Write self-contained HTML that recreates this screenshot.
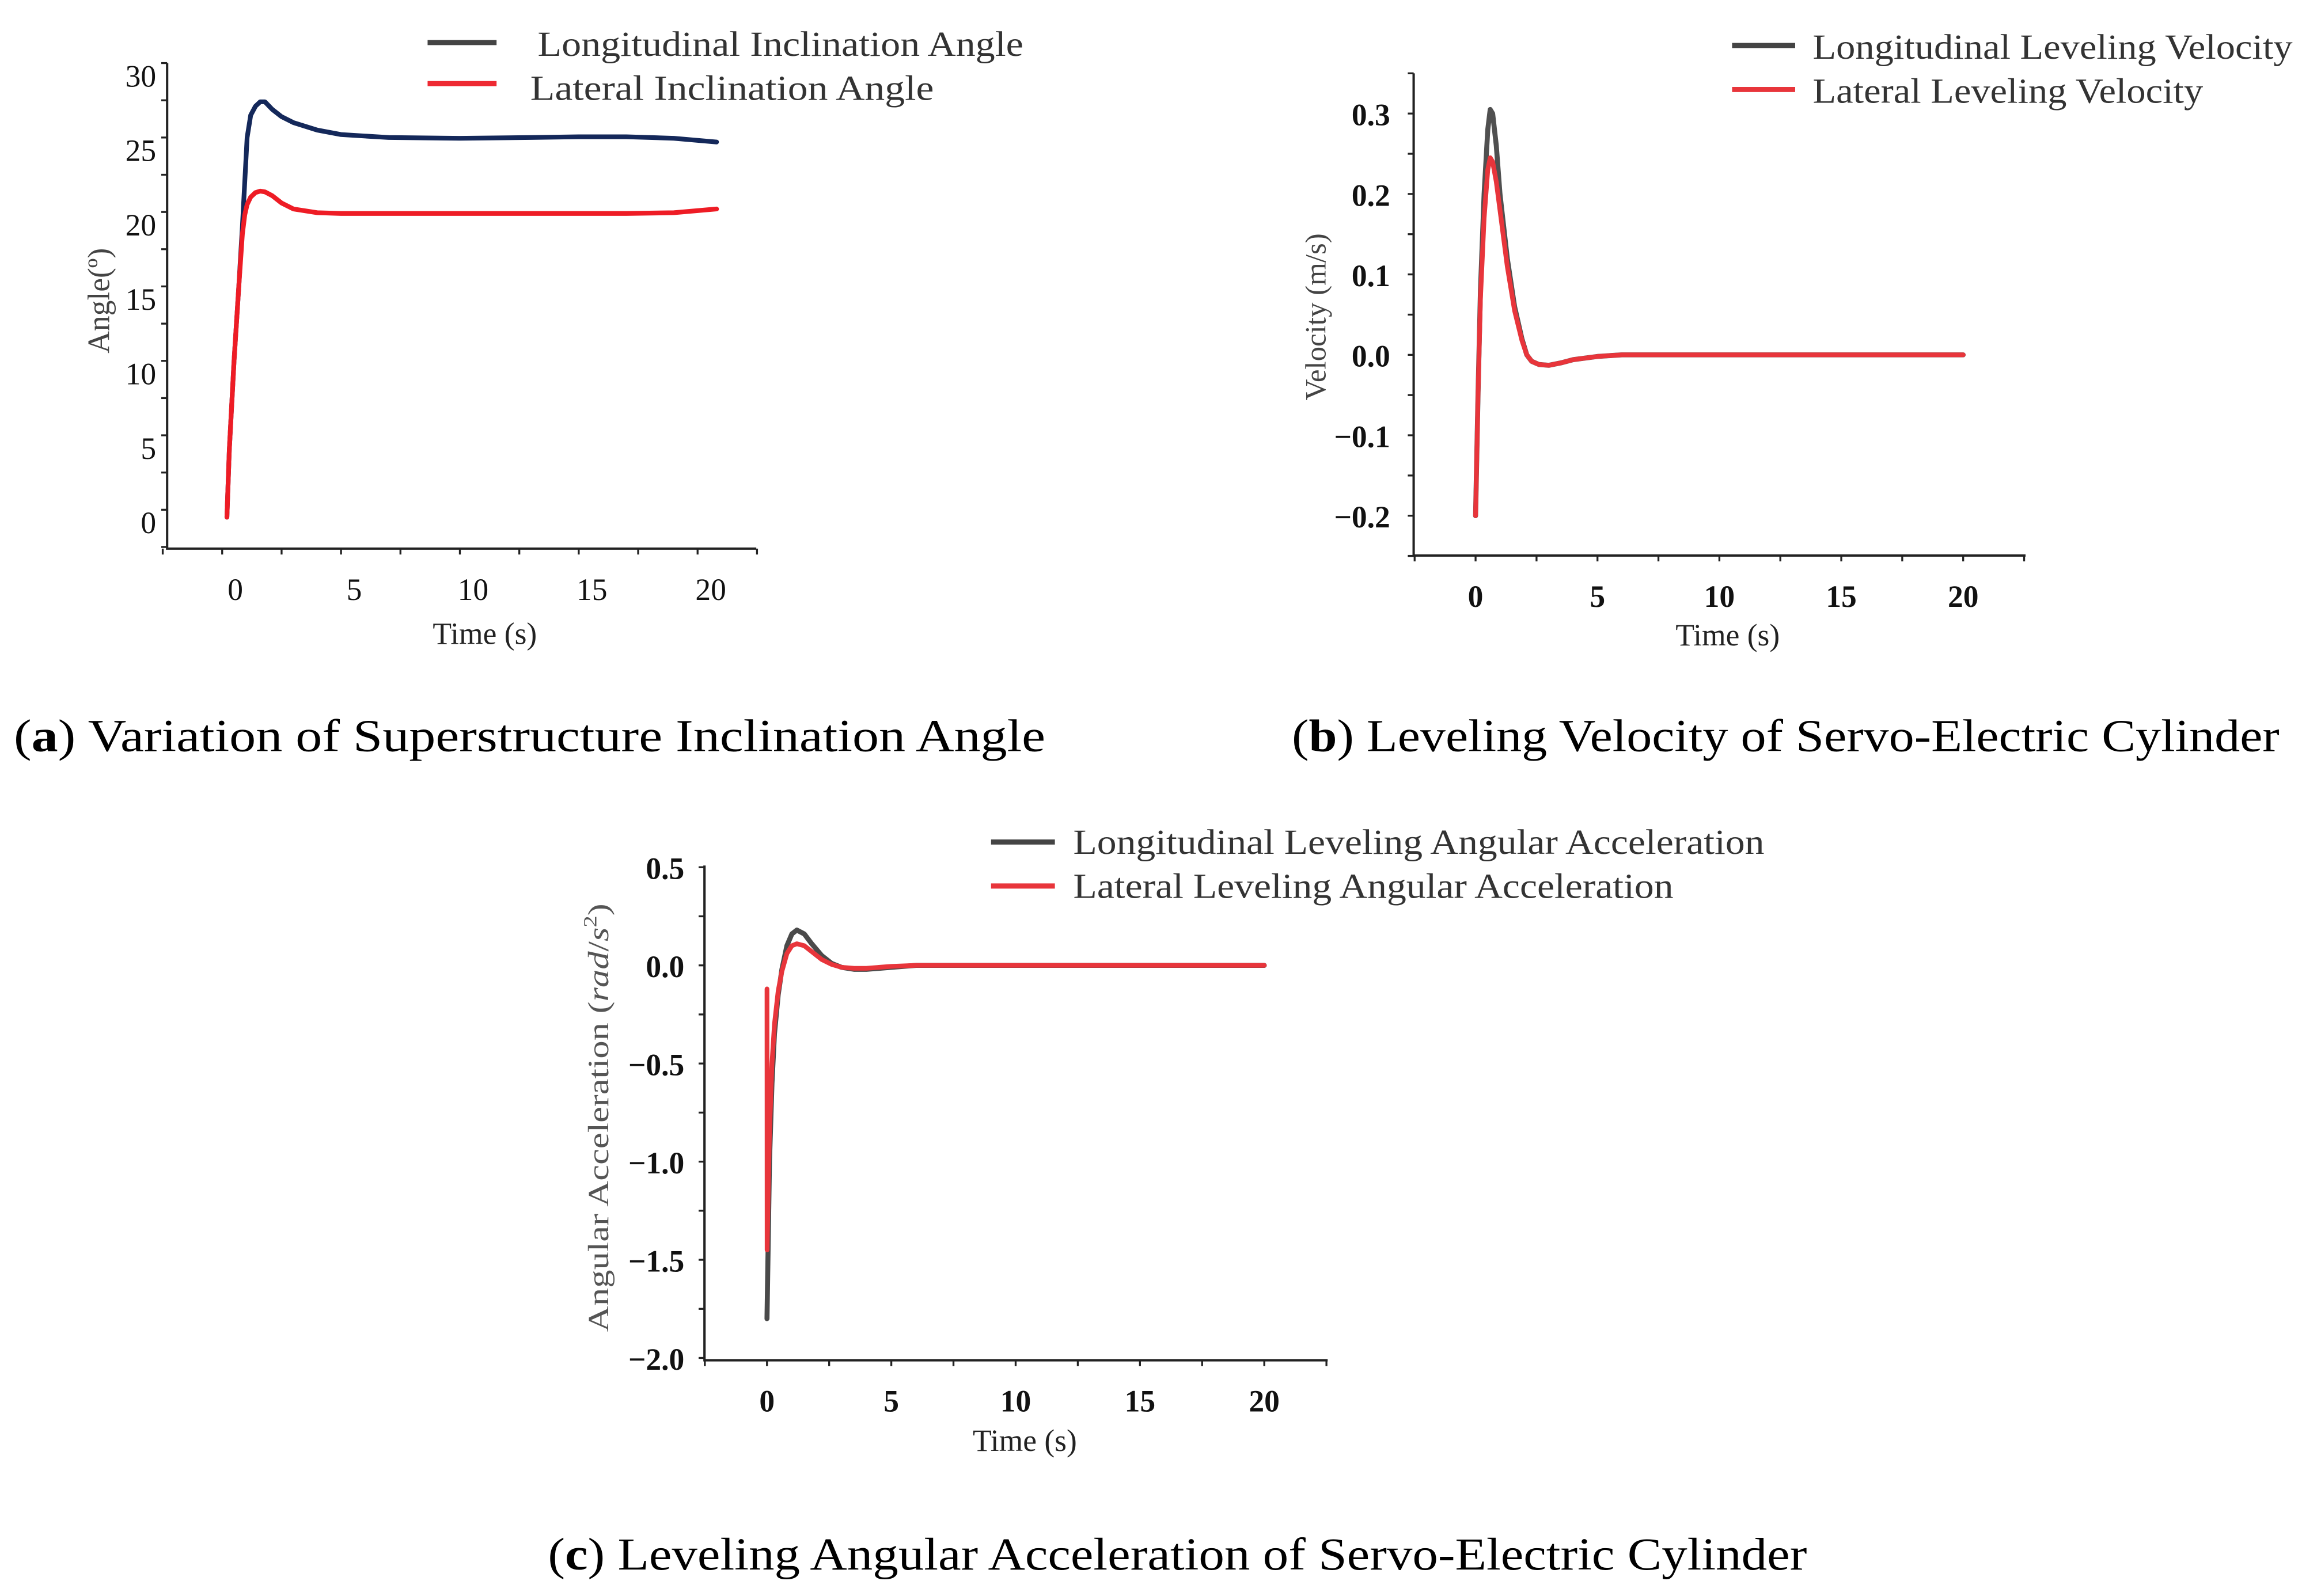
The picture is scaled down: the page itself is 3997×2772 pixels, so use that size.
<!DOCTYPE html>
<html><head><meta charset="utf-8"><style>
html,body{margin:0;padding:0;background:#fff;}
svg{display:block;}
text{font-family:"Liberation Serif",serif;}
</style></head><body>
<svg id="fig" width="3997" height="2772" viewBox="0 0 1568 1088" xmlns="http://www.w3.org/2000/svg">
<rect width="1568" height="1088" fill="#fff"/>
<g id="pa"></g>
<g id="pb"></g>
<g id="pc"></g>
<text x="9" y="512" font-size="31" textLength="703" lengthAdjust="spacingAndGlyphs">(<tspan font-weight="bold">a</tspan>) Variation of Superstructure Inclination Angle</text>
<text x="880" y="512" font-size="31" textLength="673" lengthAdjust="spacingAndGlyphs">(<tspan font-weight="bold">b</tspan>) Leveling Velocity of Servo-Electric Cylinder</text>
<text x="373" y="1070" font-size="31" textLength="858" lengthAdjust="spacingAndGlyphs">(<tspan font-weight="bold">c</tspan>) Leveling Angular Acceleration of Servo-Electric Cylinder</text>
</svg>
<script>
// Panel a data
const aTime = [0.2,0.3,0.5,0.7,0.85,0.95,1.05,1.2,1.4,1.6,1.8,2.1,2.5,3,4,5,7,10,13,15,17,19,20.8];
const aLong = [-0.5,4,10,15,19,22,25,26.5,27.1,27.4,27.4,26.9,26.4,26.0,25.5,25.2,25.0,24.95,25.0,25.05,25.05,24.95,24.7];
const aLat  = [-0.5,4,10,15,18.5,19.8,20.5,21.0,21.3,21.4,21.35,21.1,20.6,20.2,19.95,19.9,19.9,19.9,19.9,19.9,19.9,19.95,20.2];
const aXTicks = [0,5,10,15,20];
const aYTicks = [0,5,10,15,20,25,30];
// Panel b data
const bTime = [0,0.1,0.2,0.35,0.5,0.6,0.7,0.85,1.0,1.3,1.6,1.9,2.1,2.3,2.6,3,3.5,4,5,6,8,12,16,20];
const bLong = [-0.2,-0.05,0.08,0.2,0.28,0.305,0.3,0.26,0.2,0.12,0.06,0.02,0.0,-0.008,-0.012,-0.013,-0.01,-0.006,-0.002,0,0,0,0,0];
const bLat  = [-0.2,-0.05,0.07,0.17,0.23,0.245,0.24,0.215,0.18,0.11,0.055,0.018,0.0,-0.008,-0.012,-0.013,-0.01,-0.006,-0.002,0,0,0,0,0];
const bXTicks = [0,5,10,15,20];
const bYTicks = [-0.2,-0.1,0.0,0.1,0.2,0.3];
// Panel c data
const cTime = [0,0.05,0.1,0.2,0.3,0.45,0.6,0.8,1.0,1.2,1.5,1.8,2.2,2.6,3.0,3.5,4.0,5,6,8,12,16,20];
const cLong = [-1.8,-1.4,-1.0,-0.6,-0.35,-0.15,-0.02,0.1,0.16,0.18,0.16,0.11,0.05,0.01,-0.01,-0.02,-0.02,-0.01,0,0,0,0,0];
const cLatTime = [0,0.005,0.05,0.1,0.2,0.3,0.45,0.6,0.8,1.0,1.2,1.5,1.8,2.2,2.6,3.0,3.5,4.0,5,6,8,12,16,20];
const cLat  = [-0.12,-1.45,-1.15,-0.85,-0.5,-0.3,-0.13,-0.03,0.06,0.1,0.11,0.1,0.07,0.03,0.005,-0.01,-0.015,-0.015,-0.005,0,0,0,0,0];
const cXTicks = [0,5,10,15,20];
const cYTicks = [-2.0,-1.5,-1.0,-0.5,0.0,0.5];

const NS="http://www.w3.org/2000/svg";
function mk(parent,tag,attrs,txt){const e=document.createElementNS(NS,tag);for(const k in attrs)e.setAttribute(k,attrs[k]);if(txt!==undefined)e.textContent=txt;parent.appendChild(e);return e;}
function scale(d0,d1,r0,r1){return v=>r0+(v-d0)*(r1-r0)/(d1-d0);}
function path(xs,ys,sx,sy){return xs.map((x,i)=>(i?'L':'M')+sx(x).toFixed(2)+' '+sy(ys[i]).toFixed(2)).join(' ');}

function axes(g,o){
  const ax=mk(g,'path',{d:`M${o.axL} ${o.axT}L${o.axL} ${o.axB}L${o.axR} ${o.axB}`,stroke:'#222','stroke-width':1.6,fill:'none'});
  
  
  o.xminor.forEach(v=>{const t=mk(g,'line',{x1:o.sx(v),x2:o.sx(v),y1:o.axB,y2:o.axB+4,stroke:'#222','stroke-width':1.3});
    
    });
  o.yminor.forEach(v=>{const t=mk(g,'line',{x1:o.axL,x2:o.axL-4,y1:o.sy(v),y2:o.sy(v),stroke:'#222','stroke-width':1.3});
    
    });
  o.xticks.forEach(v=>{const t=mk(g,'text',{x:o.sx(v)+o.xlDx,y:o.axB+35,'font-size':21,'text-anchor':'middle','font-weight':o.bold?'bold':'normal',fill:'#111'},String(v));
    
    });
  o.yticks.forEach(v=>{const s=o.fmt(v);const t=mk(g,'text',{x:o.ylX,y:o.sy(v)+o.ylDy,'font-size':21,'text-anchor':'end','font-weight':o.bold?'bold':'normal',fill:'#111'},s);
    
    });
}
function range(a,b,s){const r=[];for(let v=a;v<=b+1e-9;v+=s)r.push(+v.toFixed(4));return r;}

// Panel A
(function(){
  const g=document.getElementById('pa');
  const sx=scale(0,20,151,475), sy=scale(0,30,347.5,43);
  axes(g,{axL:113.5,axR:515,axT:43,axB:374,sx,sy,xticks:aXTicks,yticks:aYTicks,xminor:range(-2.5,22.5,2.5),yminor:range(-2.5,30,2.5),bold:false,fmt:v=>String(v),xlDx:9,ylX:106,ylDy:16});
  const l1=mk(g,'path',{d:path(aTime,aLong,sx,sy),stroke:'#14285a','stroke-width':3.2,fill:'none','stroke-linejoin':'round','stroke-linecap':'round'});
  
  
  const l2=mk(g,'path',{d:path(aTime,aLat,sx,sy),stroke:'#ee1c25','stroke-width':3.2,fill:'none','stroke-linejoin':'round','stroke-linecap':'round'});
  
  
  const xt=mk(g,'text',{x:330,y:439,'font-size':21,'text-anchor':'middle',fill:'#222'},'Time (s)');
  
  
  const yt=mk(g,'text',{x:0,y:0,'font-size':21,'text-anchor':'middle',fill:'#444',transform:'translate(74,205) rotate(-90)'},'Angle(º)');
  
  
  const e1=mk(g,'line',{x1:291,x2:338,y1:29,y2:29,stroke:'#444','stroke-width':3.5});
  
  
  const e2=mk(g,'line',{x1:291,x2:338,y1:57,y2:57,stroke:'#ee2a33','stroke-width':3.5});
  
  
  const t1=mk(g,'text',{x:366,y:38,'font-size':24,fill:'#333',textLength:331,lengthAdjust:'spacingAndGlyphs'},'Longitudinal  Inclination Angle');
  
  
  const t2=mk(g,'text',{x:361,y:68,'font-size':24,fill:'#333',textLength:275,lengthAdjust:'spacingAndGlyphs'},'Lateral  Inclination Angle');
  
  
})();

// Panel B
(function(){
  const g=document.getElementById('pb');
  const sx=scale(0,20,1005.2,1337.5), sy=scale(0,0.3,241.9,77.4);
  axes(g,{axL:963,axR:1380,axT:50,axB:378.7,sx,sy,xticks:bXTicks,yticks:bYTicks,xminor:range(-2.5,22.5,2.5),yminor:range(-0.25,0.35,0.05),bold:true,fmt:v=>(v<0?'\u2212':'')+Math.abs(v).toFixed(1),xlDx:0,ylX:947,ylDy:8});
  const l1=mk(g,'path',{d:path(bTime,bLong,sx,sy),stroke:'#505050','stroke-width':3.4,fill:'none','stroke-linejoin':'round','stroke-linecap':'round'});
  
  
  const l2=mk(g,'path',{d:path(bTime,bLat,sx,sy),stroke:'#e8353b','stroke-width':3.2,fill:'none','stroke-linejoin':'round','stroke-linecap':'round'});
  
  
  const xt=mk(g,'text',{x:1177,y:440,'font-size':21,'text-anchor':'middle',fill:'#222'},'Time (s)');
  
  
  const yt=mk(g,'text',{x:0,y:0,'font-size':20,'text-anchor':'middle',fill:'#444',transform:'translate(903,216) rotate(-90)'},'Velocity  (m/s)');
  
  
  const e1=mk(g,'line',{x1:1180,x2:1223,y1:31,y2:31,stroke:'#444','stroke-width':3.5});
  
  
  const e2=mk(g,'line',{x1:1180,x2:1223,y1:61,y2:61,stroke:'#e8353b','stroke-width':3.5});
  
  
  const t1=mk(g,'text',{x:1235,y:40,'font-size':24,fill:'#333',textLength:327,lengthAdjust:'spacingAndGlyphs'},'Longitudinal Leveling Velocity');
  
  
  const t2=mk(g,'text',{x:1235,y:70,'font-size':24,fill:'#333',textLength:266,lengthAdjust:'spacingAndGlyphs'},'Lateral Leveling Velocity');
  
  
})();

// Panel C
(function(){
  const g=document.getElementById('pc');
  const sx=scale(0,20,522.3,861.2), sy=scale(0,0.5,658.1,591.2);
  axes(g,{axL:479.7,axR:904.4,axT:590,axB:927.3,sx,sy,xticks:cXTicks,yticks:cYTicks,xminor:range(-2.5,22.5,2.5),yminor:range(-2.0,0.5,0.25),bold:true,fmt:v=>(v<0?'\u2212':'')+Math.abs(v).toFixed(1),xlDx:0,ylX:466,ylDy:8});
  const l1=mk(g,'path',{d:path(cTime,cLong,sx,sy),stroke:'#4a4a4a','stroke-width':3.4,fill:'none','stroke-linejoin':'round','stroke-linecap':'round'});
  
  
  const l2=mk(g,'path',{d:path(cLatTime,cLat,sx,sy),stroke:'#e8353b','stroke-width':3.2,fill:'none','stroke-linejoin':'round','stroke-linecap':'round'});
  
  
  const xt=mk(g,'text',{x:698,y:989,'font-size':21,'text-anchor':'middle',fill:'#222'},'Time (s)');
  
  
  const yt=mk(g,'text',{x:0,y:0,'font-size':20,'text-anchor':'middle',fill:'#555',transform:'translate(414,762) rotate(-90)',textLength:292,lengthAdjust:'spacingAndGlyphs'});
  yt.innerHTML='Angular  Acceleration  (<tspan font-style="italic">rad</tspan>/<tspan font-style="italic">s</tspan><tspan font-size="13" dy="-8">2</tspan><tspan dy="8">)</tspan>';
  
  
  const e1=mk(g,'line',{x1:675,x2:718.5,y1:574,y2:574,stroke:'#444','stroke-width':3.5});
  
  
  const e2=mk(g,'line',{x1:675,x2:718.5,y1:604,y2:604,stroke:'#e8353b','stroke-width':3.5});
  
  
  const t1=mk(g,'text',{x:731,y:582,'font-size':24,fill:'#333',textLength:471,lengthAdjust:'spacingAndGlyphs'},'Longitudinal Leveling Angular Acceleration');
  
  
  const t2=mk(g,'text',{x:731,y:612,'font-size':24,fill:'#333',textLength:409,lengthAdjust:'spacingAndGlyphs'},'Lateral Leveling Angular Acceleration');
  
  
})();
</script>
</body></html>
